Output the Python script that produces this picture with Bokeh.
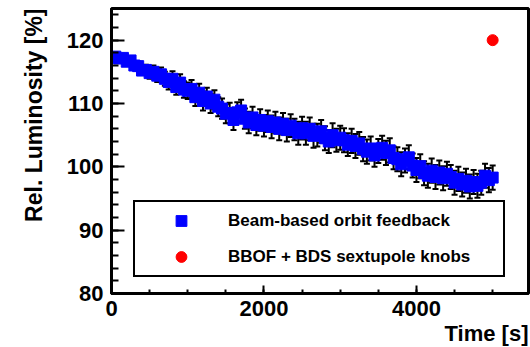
from bokeh.plotting import figure
from bokeh.models import (ColumnDataSource, Whisker, TeeHead, SingleIntervalTicker,
                          Legend, LegendItem, Range1d, Title)
from bokeh.embed import file_html
from bokeh.resources import INLINE

# ---- data ----
time_s = list(range(50, 5001, 50))
lumi = [
    117.4, 117.1, 117.2, 116.6, 116.8, 116.0, 115.9, 115.2, 115.3, 114.8,
    115.0, 114.4, 114.6, 113.9, 113.4, 113.9, 112.6, 113.3, 112.2, 112.0,
    112.3, 111.0, 111.7, 110.4, 111.1, 110.0, 110.6, 109.5, 109.2, 108.4,
    108.5, 107.4, 108.6, 108.9, 107.6, 107.0, 107.8, 106.6, 107.4, 106.5,
    107.2, 106.3, 107.0, 106.0, 106.8, 105.8, 106.5, 105.9, 105.3, 106.1,
    105.3, 106.0, 104.9, 105.0, 105.6, 104.5, 104.0, 105.0, 104.2, 104.6,
    104.2, 103.5, 104.1, 103.3, 103.7, 102.8, 102.4, 102.9, 101.8, 102.5,
    103.0, 102.2, 102.6, 101.4, 101.2, 100.4, 101.0, 101.5, 100.2, 99.5,
    100.1, 99.0, 98.6, 99.4, 98.4, 99.1, 98.2, 98.9, 98.4, 97.5,
    98.1, 97.2, 97.8, 96.9, 97.6, 97.0, 97.5, 98.6, 97.9, 98.3,
]
lumi_err = [
    0.4, 0.4, 0.5, 0.5, 0.6, 0.6, 0.7, 0.7, 0.8, 0.9,
    1.0, 1.0, 1.1, 1.1, 1.2, 1.2, 1.2, 1.3, 1.3, 1.3,
    1.4, 1.4, 1.4, 1.5, 1.4, 1.5, 1.5, 1.5, 1.6, 1.5,
    1.6, 1.6, 1.6, 1.7, 1.6, 1.7, 1.7, 1.6, 1.7, 1.7,
    1.7, 1.8, 1.7, 1.8, 1.7, 1.8, 1.8, 1.7, 1.8, 1.8,
    1.8, 1.8, 1.9, 1.8, 1.8, 1.9, 1.8, 1.9, 1.8, 1.9,
    1.9, 1.8, 1.9, 1.9, 1.8, 1.9, 1.9, 1.9, 1.8, 1.9,
    1.9, 1.9, 1.9, 1.8, 1.9, 1.9, 1.9, 1.9, 1.9, 1.9,
    1.9, 1.9, 1.9, 1.9, 1.9, 1.9, 1.9, 1.9, 1.9, 1.9,
    1.9, 1.9, 1.9, 1.9, 1.9, 1.9, 1.9, 1.9, 1.9, 1.9,
]
knob_time = [5000]
knob_lumi = [120.0]

x_ticks_interval = 2000
y_ticks_interval = 10
series_labels = ["Beam-based orbit feedback", "BBOF + BDS sextupole knobs"]
x_title = "Time [s]"
y_title = "Rel. Luminosity [%]"

FONT = "Liberation Sans"

src = ColumnDataSource(dict(
    t=time_s, lum=lumi,
    lo=[v - e for v, e in zip(lumi, lumi_err)],
    hi=[v + e for v, e in zip(lumi, lumi_err)],
))

p = figure(width=530, height=347, x_range=Range1d(0, 5470), y_range=Range1d(80, 125),
           output_backend="svg", toolbar_location=None,
           min_border_left=111, min_border_right=2, min_border_top=8, min_border_bottom=54)

p.xgrid.visible = False
p.ygrid.visible = False
p.outline_line_color = "black"
p.outline_line_width = 3
p.background_fill_color = "white"
p.border_fill_color = "white"

whisk = Whisker(source=src, base="t", upper="hi", lower="lo",
                line_color="black", line_width=2,
                upper_head=TeeHead(size=6, line_color="black", line_width=2),
                lower_head=TeeHead(size=6, line_color="black", line_width=2))
p.add_layout(whisk)

sq = p.scatter("t", "lum", source=src, marker="square", size=11,
               fill_color="#0000ff", line_color="#0000ff")
rc = p.scatter(knob_time, knob_lumi, marker="circle", size=11,
               fill_color="#ff0000", line_color="#ff0000")

p.xaxis.ticker = SingleIntervalTicker(interval=x_ticks_interval, num_minor_ticks=4)
p.yaxis.ticker = SingleIntervalTicker(interval=y_ticks_interval, num_minor_ticks=5)

for ax in (p.xaxis[0], p.yaxis[0]):
    ax.axis_line_width = 3
    ax.major_tick_line_width = 2
    ax.minor_tick_line_width = 2
    ax.major_tick_out = 0
    ax.minor_tick_out = 0
    ax.major_label_text_font = FONT
    ax.major_label_text_font_style = "bold"
    ax.major_label_text_font_size = "22px"
    ax.major_label_text_color = "black"

p.xaxis.major_label_standoff = 7
p.yaxis.major_label_standoff = 8

p.xaxis.major_tick_in = 8
p.xaxis.minor_tick_in = 4
p.yaxis.major_tick_in = 13
p.yaxis.minor_tick_in = 7

# axis titles, right/top aligned as in ROOT
xt = Title(text=x_title, align="right", standoff=0,
           text_font=FONT, text_font_style="bold", text_font_size="22px",
           text_color="black")
yt = Title(text=y_title, align="right", standoff=34,
           text_font=FONT, text_font_style="bold", text_font_size="23px",
           text_color="black")
p.add_layout(xt, "below")
p.add_layout(yt, "left")

legend = Legend(items=[LegendItem(label=series_labels[0], renderers=[sq]),
                       LegendItem(label=series_labels[1], renderers=[rc])],
                location=(22, 16),
                padding=5, spacing=9,
                glyph_width=82, glyph_height=27, label_height=27,
                label_standoff=6, label_width=270,
                label_text_font=FONT, label_text_font_style="bold",
                label_text_font_size="17px", label_text_color="black",
                border_line_color="black", border_line_width=2, border_line_alpha=1.0,
                background_fill_color="white", background_fill_alpha=1.0)
p.add_layout(legend)

open("out.html", "w").write(file_html(p, INLINE))
